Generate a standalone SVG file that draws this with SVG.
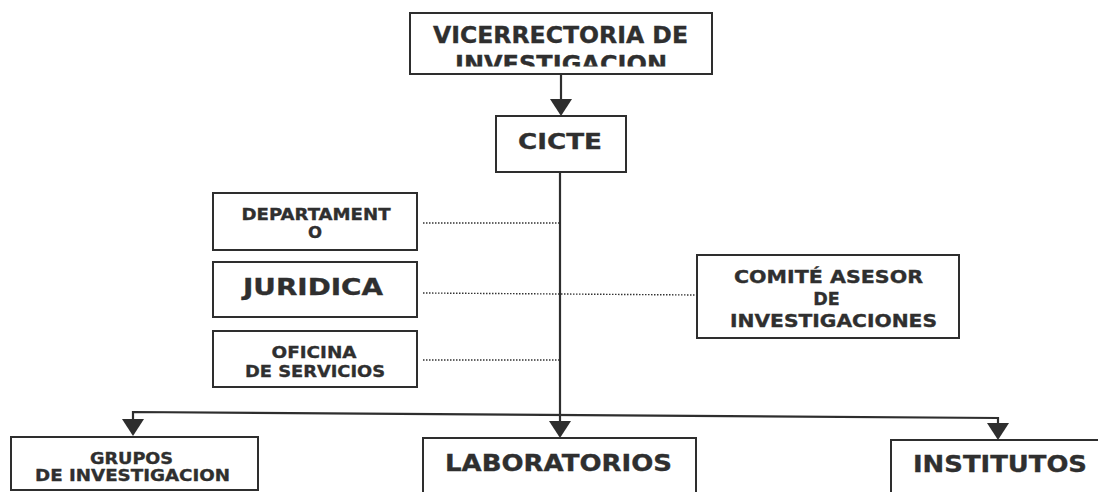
<svg xmlns="http://www.w3.org/2000/svg" width="1098" height="492" viewBox="0 0 1098 492">
<defs>
<path id="ah" d="M-11,-17 L11,-17 L0,0 Z" fill="#2e2e2e"/>
<clipPath id="clipV"><rect x="400" y="0" width="330" height="66.5"/></clipPath>
</defs>
<style>
.box{fill:#fff;stroke:#2e2e2e;stroke-width:2}
.t{font-family:"DejaVu Sans",Verdana,sans-serif;font-weight:bold;fill:#2f2f2f;stroke:#2f2f2f;stroke-width:0.35;text-anchor:middle}
.ln{fill:none;stroke:#2e2e2e;stroke-width:2.2}
.dot{fill:none;stroke:#333;stroke-width:1.4;stroke-dasharray:1.5 1.5}
</style>
<rect width="1098" height="492" fill="#fff"/>

<g id="connectors">
<line class="ln" x1="561" y1="74" x2="561" y2="104"/>
<use href="#ah" x="561" y="116"/>
<line class="ln" x1="560" y1="172" x2="560" y2="426"/>
<use href="#ah" x="560" y="438"/>
<polyline class="ln" points="133,426 133,412 998,418 998,428"/>
<use href="#ah" x="133" y="436"/>
<use href="#ah" x="998" y="440"/>
<line class="dot" x1="423" y1="223" x2="559" y2="223"/>
<line class="dot" x1="423" y1="293" x2="697" y2="295"/>
<line class="dot" x1="423" y1="360" x2="559" y2="360"/>
</g>

<g id="vicerrectoria">
<rect class="box" x="410" y="13" width="302" height="61"/>
<text class="t" x="560.5" y="43" font-size="23" textLength="255" lengthAdjust="spacingAndGlyphs">VICERRECTORIA DE</text>
<text class="t" x="561" y="72" font-size="23" textLength="212" lengthAdjust="spacingAndGlyphs" clip-path="url(#clipV)">INVESTIGACION</text>
</g>

<g id="cicte">
<rect class="box" x="496" y="116" width="130" height="56"/>
<text class="t" x="560" y="149" font-size="22" textLength="84" lengthAdjust="spacingAndGlyphs">CICTE</text>
</g>

<g id="departamento">
<rect class="box" x="213" y="193" width="204" height="57"/>
<text class="t" x="316" y="220" font-size="16.5" textLength="149" lengthAdjust="spacingAndGlyphs">DEPARTAMENT</text>
<text class="t" x="315" y="238" font-size="16.5">O</text>
</g>

<g id="juridica">
<rect class="box" x="213" y="262" width="204" height="55"/>
<text class="t" x="313" y="295" font-size="23" textLength="140" lengthAdjust="spacingAndGlyphs">JURIDICA</text>
</g>

<g id="oficina">
<rect class="box" x="213" y="331" width="204" height="56"/>
<text class="t" x="314" y="358" font-size="16.5" textLength="85" lengthAdjust="spacingAndGlyphs">OFICINA</text>
<text class="t" x="315" y="377" font-size="16.5" textLength="140" lengthAdjust="spacingAndGlyphs">DE SERVICIOS</text>
</g>

<g id="comite">
<rect class="box" x="697" y="255" width="262" height="83"/>
<text class="t" x="828.5" y="283" font-size="17.5" textLength="189" lengthAdjust="spacingAndGlyphs">COMITÉ ASESOR</text>
<text class="t" x="826.5" y="305" font-size="17.5">DE</text>
<text class="t" x="833.5" y="327" font-size="17.5" textLength="207" lengthAdjust="spacingAndGlyphs">INVESTIGACIONES</text>
</g>

<g id="grupos">
<rect class="box" x="11" y="437" width="247" height="53"/>
<text class="t" x="131.5" y="464" font-size="16" textLength="83" lengthAdjust="spacingAndGlyphs">GRUPOS</text>
<text class="t" x="132.5" y="481" font-size="16" textLength="195" lengthAdjust="spacingAndGlyphs">DE INVESTIGACION</text>
</g>

<g id="laboratorios">
<rect class="box" x="423" y="438" width="273" height="70"/>
<text class="t" x="558.5" y="471" font-size="23" textLength="227" lengthAdjust="spacingAndGlyphs">LABORATORIOS</text>
</g>

<g id="institutos">
<rect class="box" x="891" y="440" width="220" height="70"/>
<text class="t" x="1000" y="472" font-size="23" textLength="174" lengthAdjust="spacingAndGlyphs">INSTITUTOS</text>
</g>
</svg>
